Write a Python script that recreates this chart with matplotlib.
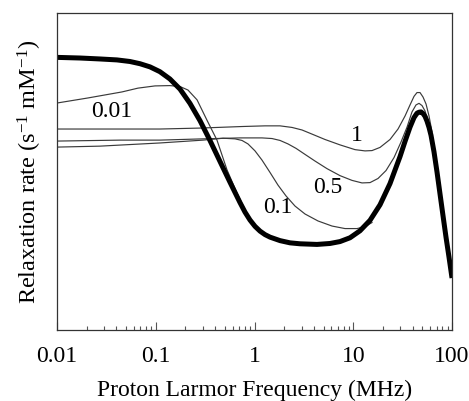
import matplotlib
matplotlib.use("Agg")
import matplotlib.pyplot as plt
from matplotlib.ticker import LogLocator, NullFormatter, FixedLocator, FixedFormatter

plt.rcParams['font.family'] = ['Liberation Serif', 'DejaVu Serif']
plt.rcParams['mathtext.fontset'] = 'custom'
plt.rcParams['mathtext.rm'] = 'Liberation Serif'
plt.rcParams['mathtext.it'] = 'Liberation Serif:italic'

# thick curve (no label)
freq_thick = [0.01, 0.0171, 0.0272, 0.0405, 0.0548, 0.0693, 0.0875, 0.110, 0.139, 0.176,
              0.222, 0.281, 0.354, 0.447, 0.565, 0.713, 0.801, 0.900, 1.012, 1.137,
              1.277, 1.436, 1.813, 2.288, 2.889, 4.295, 5.815, 7.34, 9.27, 11.7,
              14.78, 18.66, 23.56, 29.74, 33.43, 37.56, 41.22, 44.2, 46.33, 48.55,
              50.84, 53.3, 55.8, 58.5, 61.3, 65.7, 70.5, 75.6, 81.1, 86.9,
              93.2, 100]
rate_thick = [8.60, 8.58, 8.55, 8.52, 8.47, 8.40, 8.30, 8.15, 7.92, 7.60,
              7.15, 6.60, 5.98, 5.32, 4.66, 4.02, 3.72, 3.47, 3.27, 3.12,
              3.01, 2.93, 2.82, 2.75, 2.72, 2.70, 2.73, 2.79, 2.91, 3.13,
              3.46, 3.95, 4.62, 5.47, 5.95, 6.40, 6.70, 6.84, 6.87, 6.88,
              6.83, 6.74, 6.59, 6.39, 6.14, 5.62, 4.98, 4.29, 3.60, 2.93,
              2.30, 1.64]

# thin curves
freq_001 = [0.01, 0.0206, 0.0455, 0.0661, 0.0983, 0.139, 0.176, 0.212, 0.262, 0.330,
            0.417, 0.527, 0.665, 0.801]
rate_001 = [7.16, 7.32, 7.51, 7.63, 7.70, 7.71, 7.68, 7.57, 7.26, 6.62,
            5.99, 5.05, 4.32, 3.79]

freq_01 = [0.01, 0.0272, 0.110, 0.301, 0.480, 0.635, 0.747, 0.859, 1.012, 1.191,
           1.436, 1.730, 2.084, 2.572, 3.246, 4.395, 6.093, 8.25, 10.91, 13.15,
           15.48]
rate_01 = [5.77, 5.80, 5.90, 5.99, 6.05, 6.03, 5.98, 5.87, 5.65, 5.36,
           4.97, 4.57, 4.23, 3.91, 3.66, 3.44, 3.28, 3.20, 3.20, 3.26,
           3.39]

freq_05 = [0.01, 0.0434, 0.110, 0.301, 0.713, 1.191, 1.504, 1.813, 2.184, 2.633,
           3.246, 4.099, 5.424, 7.34, 9.71, 12.26, 14.78, 17.81, 21.46, 25.86,
           30.44, 35.02, 39.34, 43.19, 46.33, 49.69, 53.3, 57.15]
rate_05 = [5.96, 5.99, 5.99, 6.03, 6.06, 6.06, 6.04, 5.98, 5.87, 5.73,
           5.54, 5.33, 5.09, 4.87, 4.72, 4.64, 4.65, 4.78, 5.03, 5.44,
           5.93, 6.40, 6.88, 7.10, 7.15, 7.08, 6.91, 6.59]

freq_1 = [0.01, 0.0434, 0.110, 0.281, 0.765, 1.277, 1.813, 2.397, 3.027, 3.822,
          5.175, 7.34, 10.41, 13.15, 15.48, 18.66, 23.56, 28.39, 33.43, 37.56,
          41.22, 44.2, 47.42, 50.84, 54.55, 58.5, 62.74]
rate_1 = [6.34, 6.34, 6.34, 6.37, 6.42, 6.44, 6.44, 6.39, 6.31, 6.18,
          6.01, 5.84, 5.69, 5.65, 5.66, 5.76, 6.01, 6.34, 6.75, 7.10,
          7.37, 7.49, 7.49, 7.35, 7.13, 6.75, 6.25]

curve_labels = ['0.01', '0.1', '0.5', '1']
label_x = [0.036, 1.73, 5.55, 10.9]
label_y = [6.88, 3.88, 4.48, 6.15]

xtick_vals = [0.01, 0.1, 1, 10, 100]
xtick_text = ['0.01', '0.1', '1', '10', '100']

fig = plt.figure(figsize=(4.69, 4.01), dpi=100)
ax = fig.add_axes([0.1215, 0.177, 0.8423, 0.7906])

thin = dict(color='#3a3a3a', linewidth=0.85)
ax.plot(freq_001, rate_001, **thin)
ax.plot(freq_01, rate_01, **thin)
ax.plot(freq_05, rate_05, **thin)
ax.plot(freq_1, rate_1, **thin)
ax.plot(freq_thick, rate_thick, color='black', linewidth=3.6,
        solid_capstyle='butt', solid_joinstyle='round')

for t, x, y in zip(curve_labels, label_x, label_y):
    ax.text(x, y, t, fontsize=17, ha='center', va='center')

ax.set_xscale('log')
ax.set_xlim(0.01, 100)
ax.set_ylim(0, 10)

ax.xaxis.set_major_locator(FixedLocator(xtick_vals))
ax.xaxis.set_major_formatter(FixedFormatter(xtick_text))
ax.xaxis.set_minor_locator(LogLocator(base=10, subs=range(2, 10)))
ax.xaxis.set_minor_formatter(NullFormatter())
ax.tick_params(axis='x', which='major', direction='in', length=6, width=0.8,
               labelsize=17, pad=11.5, color='#555555')
ax.tick_params(axis='x', which='minor', direction='in', length=3, width=0.8,
               color='#555555')
ax.set_yticks([])

for s in ax.spines.values():
    s.set_linewidth(0.9)
    s.set_color('#333333')

ax.set_xlabel('Proton Larmor Frequency (MHz)', fontsize=17, labelpad=9)
ax.set_ylabel(r'Relaxation rate (s$^{-1}$ mM$^{-1}$)', fontsize=17.5, labelpad=9)

plt.savefig('out.png', dpi=100)
